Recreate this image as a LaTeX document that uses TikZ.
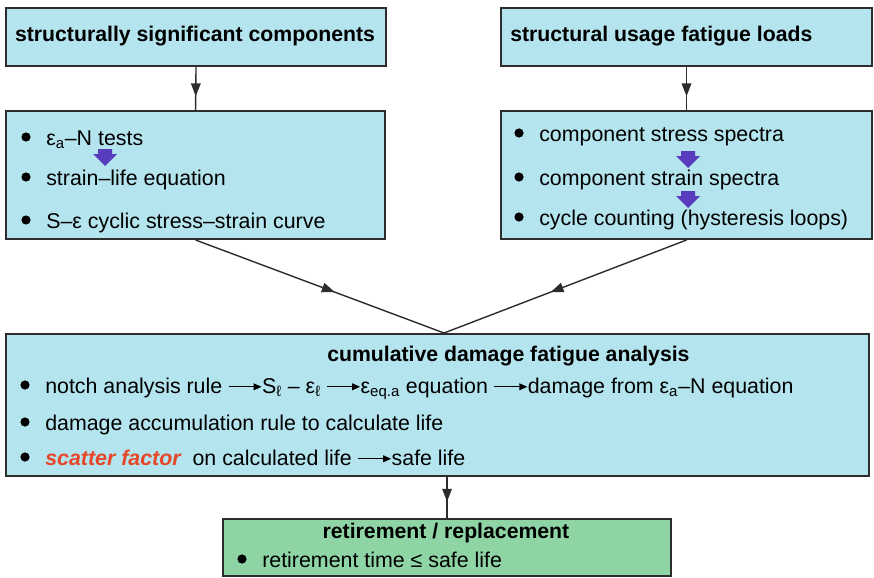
\documentclass[tikz,border=0pt]{standalone}
\usepackage{fontspec}
\setmainfont{Liberation Sans}
\usetikzlibrary{arrows.meta,decorations.markings}

\definecolor{boxblue}{RGB}{180,228,237}
\definecolor{boxgreen}{RGB}{143,212,165}
\definecolor{edge}{RGB}{45,45,45}
\definecolor{flowpurple}{RGB}{88,60,190}
\definecolor{scatred}{RGB}{232,70,40}

% small arrow used inside the text lines
\newcommand{\flowarr}{\tikz[baseline=-0.55ex]\draw[line width=0.8pt,-{Triangle[length=2mm,width=1.7mm]}] (0,0) -- (0.82cm,0);}

\begin{document}
\begin{tikzpicture}[x=0.025cm,y=-0.025cm,
  box/.style={draw=edge,line width=1.4pt,anchor=north west,inner sep=0pt},
  bluebox/.style={box,fill=boxblue},
  greenbox/.style={box,fill=boxgreen},
  head/.style={font=\fontsize{15.1}{18}\selectfont\bfseries,inner sep=0pt},
  item/.style={font=\fontsize{15.2}{18}\selectfont,anchor=base west,inner sep=0pt},
  bul/.style={circle,fill=black,inner sep=0pt,minimum size=2.3mm},
  midarr/.style={line width=1pt,draw=edge,postaction={decorate},
    decoration={markings,mark=at position #1 with {\arrow{Triangle[length=3.2mm,width=2.4mm]}}}},
  midarr/.default=0.6]
\useasboundingbox (0,0) rectangle (874,578);

\node[bluebox,minimum width=9.5cm,minimum height=1.45cm] (ssc) at (5,7) {};
\node[bluebox,minimum width=9.275cm,minimum height=1.45cm] (sufl) at (500,7) {};
\node[bluebox,minimum width=9.475cm,minimum height=3.2cm] (matl) at (5,110) {};
\node[bluebox,minimum width=9.275cm,minimum height=3.2cm] (spec) at (500,110) {};
\node[bluebox,minimum width=21.575cm,minimum height=3.55cm] (cdfa) at (5,333) {};
\node[greenbox,minimum width=11.2cm,minimum height=1.425cm] (retr) at (222,518) {};

\node[head,anchor=base] (ssctxt) at (195,42) {structurally significant components};
\node[head,anchor=base west] (sufltxt) at (510,42) {structural usage fatigue loads};
\node[head,anchor=base west] (cdfatxt) at (327,361) {cumulative damage fatigue analysis};
\node[head,anchor=base] (retrtxt) at (446,538) {retirement / replacement};

\foreach \n/\x/\y/\t in {
  c1/26/145/{ε\textsubscript{a}–N tests},
  c2/26/185/{strain–life equation},
  c3/26/228/{S–ε cyclic stress–strain curve},
  d1/519/141/{component stress spectra},
  d2/519/185/{component strain spectra},
  d3/519/225/{cycle counting (hysteresis loops)},
  e1/25/393/{notch analysis rule \flowarr S\textsubscript{ℓ} – ε\textsubscript{ℓ} \flowarr ε\textsubscript{eq.a} equation \flowarr damage from ε\textsubscript{a}–N equation},
  e2/25/430/{damage accumulation rule to calculate life},
  e3/25/465/{{\color{scatred}\bfseries\itshape scatter factor}\ \ on calculated life \flowarr safe life},
  f1/242/567/{retirement time ≤ safe life}}
{
  \node[bul] (\n) at (\x,\y-8) {};
  \node[item] (\n-txt) at (\x+20,\y) {\t};
}

\foreach \x/\y in {105/149,688/151,688/191}
  \fill[flowpurple] (\x-7,\y) -- (\x+7,\y) -- (\x+7,\y+5) -- (\x+12,\y+5) -- (\x,\y+17) -- (\x-12,\y+5) -- (\x-7,\y+5) -- cycle;

\coordinate (meet) at (444,333);
\draw[midarr=0.68] (ssc.south) -- (matl.north);
\draw[midarr=0.68] (sufl.south) -- (spec.north);
\draw[midarr=0.56] (matl.south) -- (meet);
\draw[midarr=0.56] (spec.south) -- (meet);
\draw[midarr=0.6] (cdfa.south -| retr.north) -- (retr.north);
\end{tikzpicture}
\end{document}
